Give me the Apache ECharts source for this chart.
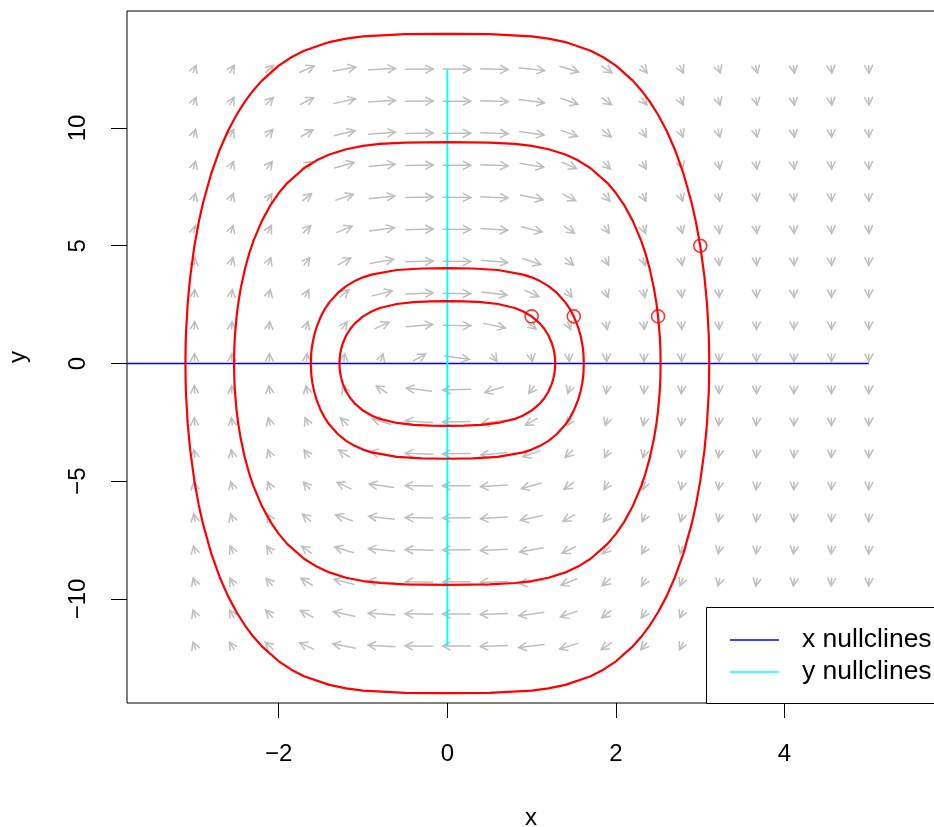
<!DOCTYPE html>
<html>
<head>
<meta charset="utf-8">
<script src="https://cdn.jsdelivr.net/npm/echarts@6/dist/echarts.min.js"></script>
<style>
  html, body { margin: 0; padding: 0; background: #ffffff; }
  #chart { width: 934px; height: 827px; }
</style>
</head>
<body>
<div id="chart"></div>
<script>
// Axis tick values
const xTicks = [-2, 0, 2, 4];
const yTicks = [-10, -5, 0, 5, 10];

// Direction field sample grid
const fieldX = [-3, -2.556, -2.111, -1.667, -1.222, -0.778, -0.333, 0.111, 0.556, 1,
                1.444, 1.889, 2.333, 2.778, 3.222, 3.667, 4.111, 4.556, 5];
const fieldY = [-12, -10.639, -9.278, -7.917, -6.556, -5.194, -3.833, -2.472, -1.111, 0.25,
                1.611, 2.972, 4.333, 5.694, 7.056, 8.417, 9.778, 11.139, 12.5];

// Flow direction (degrees, anticlockwise from +x, in data units), one row per fieldY value
const fieldAngle = [
  [96, 100, 107, 121, 145, 168, 178, -179, -174, -157, -132, -113, -103, -98, -95, -93, -92, -92, -91],
  [96, 99, 105, 118, 141, 166, 177, -179, -173, -155, -128, -110, -101, -97, -94, -93, -92, -92, -91],
  [95, 98, 103, 115, 137, 164, 177, -179, -172, -152, -125, -108, -100, -96, -94, -93, -92, -91, -91],
  [94, 97, 101, 111, 133, 161, 176, -179, -171, -148, -120, -105, -99, -95, -93, -92, -92, -91, -91],
  [93, 95, 99, 108, 128, 158, 176, -179, -169, -143, -116, -103, -97, -94, -93, -92, -91, -91, -91],
  [93, 94, 97, 104, 121, 153, 175, -179, -167, -136, -111, -100, -96, -93, -92, -92, -91, -91, -91],
  [92, 93, 96, 101, 114, 145, 173, -178, -162, -128, -106, -98, -94, -92, -92, -91, -91, -91, -90],
  [91, 92, 94, 97, 106, 133, 169, -177, -153, -116, -100, -95, -93, -92, -91, -91, -90, -90, -90],
  [91, 91, 92, 93, 97, 113, 157, -174, -132, -102, -95, -92, -91, -91, -90, -90, -90, -90, -90],
  [90, 90, 90, 89, 88, 85, 63, -25, -79, -87, -89, -90, -90, -90, -90, -90, -90, -90, -90],
  [89, 89, 88, 85, 79, 59, 17, -4, -38, -72, -83, -87, -88, -89, -89, -90, -90, -90, -90],
  [89, 88, 86, 82, 71, 42, 9, -2, -23, -59, -78, -84, -87, -88, -89, -89, -89, -90, -90],
  [88, 86, 84, 78, 63, 32, 6, -2, -16, -49, -72, -82, -85, -87, -88, -89, -89, -89, -90],
  [87, 85, 82, 74, 56, 25, 5, -1, -12, -41, -67, -79, -84, -86, -88, -88, -89, -89, -89],
  [86, 84, 80, 71, 50, 21, 4, -1, -10, -35, -62, -76, -82, -85, -87, -88, -89, -89, -89],
  [86, 83, 78, 67, 45, 18, 3, -1, -8, -31, -58, -74, -81, -85, -87, -88, -88, -89, -89],
  [85, 82, 76, 64, 41, 15, 3, -1, -7, -27, -54, -71, -80, -84, -86, -87, -88, -89, -89],
  [84, 81, 74, 61, 38, 13, 2, -1, -6, -24, -51, -69, -78, -83, -85, -87, -88, -88, -89],
  [84, 80, 73, 58, 34, 12, 2, -1, -6, -22, -47, -67, -77, -82, -85, -86, -88, -88, -89]
];

// Closed trajectories, one per starting point
const orbit1 = [
  [0, 2.646], [0.2, 2.638], [0.4, 2.606], [0.6, 2.526], [0.8, 2.354], [0.9, 2.209], [1, 2], [1.1, 1.692],
  [1.15, 1.476], [1.2, 1.189], [1.24, 0.857], [1.26, 0.609], [1.27, 0.429], [1.277, 0.226], [1.28, 0],
  [1.277, -0.226], [1.27, -0.429], [1.26, -0.609], [1.24, -0.857], [1.2, -1.189], [1.15, -1.476], [1.1, -1.692],
  [1, -2], [0.9, -2.209], [0.8, -2.354], [0.6, -2.526], [0.4, -2.606], [0.2, -2.638], [0, -2.646],
  [-0.2, -2.638], [-0.4, -2.606], [-0.6, -2.526], [-0.8, -2.354], [-0.9, -2.209], [-1, -2], [-1.1, -1.692],
  [-1.15, -1.476], [-1.2, -1.189], [-1.24, -0.857], [-1.26, -0.609], [-1.27, -0.429], [-1.277, -0.226], [-1.28, 0],
  [-1.277, 0.226], [-1.27, 0.429], [-1.26, 0.609], [-1.24, 0.857], [-1.2, 1.189], [-1.15, 1.476], [-1.1, 1.692],
  [-1, 2], [-0.9, 2.209], [-0.8, 2.354], [-0.6, 2.526], [-0.4, 2.606], [-0.2, 2.638], [0, 2.646]
];
const orbit2 = [
  [0, 4.047], [0.3, 4.033], [0.6, 3.969], [0.9, 3.775], [1, 3.657], [1.1, 3.498], [1.2, 3.285], [1.3, 2.995],
  [1.4, 2.595], [1.45, 2.331], [1.5, 2], [1.55, 1.558], [1.58, 1.189], [1.6, 0.841], [1.61, 0.587], [1.615, 0.401], [1.619, 0],
  [1.615, -0.401], [1.61, -0.587], [1.6, -0.841], [1.58, -1.189], [1.55, -1.558], [1.5, -2], [1.45, -2.331], [1.4, -2.595],
  [1.3, -2.995], [1.2, -3.285], [1.1, -3.498], [1, -3.657], [0.9, -3.775], [0.6, -3.969], [0.3, -4.033], [0, -4.047],
  [-0.3, -4.033], [-0.6, -3.969], [-0.9, -3.775], [-1, -3.657], [-1.1, -3.498], [-1.2, -3.285], [-1.3, -2.995],
  [-1.4, -2.595], [-1.45, -2.331], [-1.5, -2], [-1.55, -1.558], [-1.58, -1.189], [-1.6, -0.841], [-1.61, -0.587], [-1.615, -0.401], [-1.619, 0],
  [-1.615, 0.401], [-1.61, 0.587], [-1.6, 0.841], [-1.58, 1.189], [-1.55, 1.558], [-1.5, 2], [-1.45, 2.331], [-1.4, 2.595],
  [-1.3, 2.995], [-1.2, 3.285], [-1.1, 3.498], [-1, 3.657], [-0.9, 3.775], [-0.6, 3.969], [-0.3, 4.033], [0, 4.047]
];
const orbit3 = [
  [0, 9.401], [0.5, 9.381], [0.8, 9.323], [1, 9.24], [1.2, 9.099], [1.4, 8.873], [1.55, 8.627], [1.7, 8.293],
  [1.9, 7.662], [2, 7.237], [2.1, 6.713], [2.2, 6.057], [2.3, 5.207], [2.35, 4.675], [2.4, 4.032], [2.45, 3.211],
  [2.48, 2.563], [2.5, 2], [2.52, 1.171], [2.527, 0.66], [2.53, 0],
  [2.527, -0.66], [2.52, -1.171], [2.5, -2], [2.48, -2.563], [2.45, -3.211], [2.4, -4.032], [2.35, -4.675], [2.3, -5.207],
  [2.2, -6.057], [2.1, -6.713], [2, -7.237], [1.9, -7.662], [1.7, -8.293], [1.55, -8.627], [1.4, -8.873], [1.2, -9.099],
  [1, -9.24], [0.8, -9.323], [0.5, -9.381], [0, -9.401],
  [-0.5, -9.381], [-0.8, -9.323], [-1, -9.24], [-1.2, -9.099], [-1.4, -8.873], [-1.55, -8.627], [-1.7, -8.293],
  [-1.9, -7.662], [-2, -7.237], [-2.1, -6.713], [-2.2, -6.057], [-2.3, -5.207], [-2.35, -4.675], [-2.4, -4.032], [-2.45, -3.211],
  [-2.48, -2.563], [-2.5, -2], [-2.52, -1.171], [-2.527, -0.66], [-2.53, 0],
  [-2.527, 0.66], [-2.52, 1.171], [-2.5, 2], [-2.48, 2.563], [-2.45, 3.211], [-2.4, 4.032], [-2.35, 4.675], [-2.3, 5.207],
  [-2.2, 6.057], [-2.1, 6.713], [-2, 7.237], [-1.9, 7.662], [-1.7, 8.293], [-1.55, 8.627], [-1.4, 8.873], [-1.2, 9.099],
  [-1, 9.24], [-0.8, 9.323], [-0.5, 9.381], [0, 9.401]
];
const orbit4 = [
  [0, 14], [0.5, 13.987], [1, 13.892], [1.2, 13.799], [1.4, 13.651], [1.7, 13.282], [1.85, 13.006], [2, 12.649],
  [2.2, 12.013], [2.3, 11.608], [2.4, 11.13], [2.5, 10.565], [2.6, 9.892], [2.7, 9.079], [2.8, 8.076], [2.9, 6.792],
  [2.95, 5.986], [3, 5], [3.05, 3.691], [3.08, 2.555], [3.1, 1.298], [3.104, 0.84], [3.107, 0],
  [3.104, -0.84], [3.1, -1.298], [3.08, -2.555], [3.05, -3.691], [3, -5], [2.95, -5.986], [2.9, -6.792], [2.8, -8.076],
  [2.7, -9.079], [2.6, -9.892], [2.5, -10.565], [2.4, -11.13], [2.3, -11.608], [2.2, -12.013], [2, -12.649], [1.85, -13.006],
  [1.7, -13.282], [1.4, -13.651], [1.2, -13.799], [1, -13.892], [0.5, -13.987], [0, -14],
  [-0.5, -13.987], [-1, -13.892], [-1.2, -13.799], [-1.4, -13.651], [-1.7, -13.282], [-1.85, -13.006], [-2, -12.649],
  [-2.2, -12.013], [-2.3, -11.608], [-2.4, -11.13], [-2.5, -10.565], [-2.6, -9.892], [-2.7, -9.079], [-2.8, -8.076], [-2.9, -6.792],
  [-2.95, -5.986], [-3, -5], [-3.05, -3.691], [-3.08, -2.555], [-3.1, -1.298], [-3.104, -0.84], [-3.107, 0],
  [-3.104, 0.84], [-3.1, 1.298], [-3.08, 2.555], [-3.05, 3.691], [-3, 5], [-2.95, 5.986], [-2.9, 6.792], [-2.8, 8.076],
  [-2.7, 9.079], [-2.6, 9.892], [-2.5, 10.565], [-2.4, 11.13], [-2.3, 11.608], [-2.2, 12.013], [-2, 12.649], [-1.85, 13.006],
  [-1.7, 13.282], [-1.4, 13.651], [-1.2, 13.799], [-1, 13.892], [-0.5, 13.987], [0, 14]
];

// Starting points of the trajectories
const startPoints = [[1, 2], [1.5, 2], [2.5, 2], [3, 5]];

// Nullclines
const xNullcline = [[-3.8, 0], [5, 0]];
const yNullcline = [[0, -12], [0, 12.5]];
const legendLabels = ['x nullclines', 'y nullclines'];

const FONT = '"Liberation Sans", Arial, Helvetica, sans-serif';
const GREY = '#BEBEBE';

const arrowData = [];
fieldY.forEach((y, j) => {
  fieldX.forEach((x, i) => arrowData.push([x, y, fieldAngle[j][i]]));
});

// Arrow of fixed length in data units, centred on its grid point
const ARROW_LEN = 0.333;
function renderArrow(params, api) {
  const x = api.value(0), y = api.value(1);
  const a = api.value(2) * Math.PI / 180;
  const hx = Math.cos(a) * ARROW_LEN / 2, hy = Math.sin(a) * ARROW_LEN / 2;
  const p0 = api.coord([x - hx, y - hy]);
  const p1 = api.coord([x + hx, y + hy]);
  const ang = Math.atan2(p1[1] - p0[1], p1[0] - p0[0]);
  const head = 9, spread = 28 * Math.PI / 180;
  const b1 = [p1[0] - head * Math.cos(ang - spread), p1[1] - head * Math.sin(ang - spread)];
  const b2 = [p1[0] - head * Math.cos(ang + spread), p1[1] - head * Math.sin(ang + spread)];
  return {
    type: 'group',
    children: [
      { type: 'line', shape: { x1: p0[0], y1: p0[1], x2: p1[0], y2: p1[1] },
        style: { stroke: GREY, lineWidth: 1.5 } },
      { type: 'polyline', shape: { points: [b1, p1, b2] },
        style: { stroke: GREY, lineWidth: 1.5, fill: null } }
    ]
  };
}

const minusFmt = v => String(v).replace('-', '\u2212');

const chart = echarts.init(document.getElementById('chart'), null, { renderer: 'canvas' });

function orbitSeries(data) {
  return {
    type: 'line', data: data, showSymbol: false, symbol: 'none', smooth: false,
    lineStyle: { color: '#FF0000', width: 2.2 }, z: 4, silent: true, animation: false
  };
}

chart.setOption({
  animation: false,
  backgroundColor: '#ffffff',
  grid: {
    left: 127, top: 11, width: 808, height: 692,
    outerBoundsMode: 'none', containLabel: false,
    show: true, borderColor: '#000000', borderWidth: 1, backgroundColor: 'transparent'
  },
  xAxis: {
    type: 'value', min: -3.8, max: 5.785,
    axisLine: { show: false, onZero: false },
    splitLine: { show: false },
    axisTick: { show: true, length: 15, customValues: xTicks, lineStyle: { color: '#000', width: 1 } },
    axisLabel: { customValues: xTicks, fontSize: 24, fontFamily: FONT, color: '#000', margin: 39, formatter: minusFmt },
    name: 'x', nameLocation: 'middle', nameGap: 103,
    nameTextStyle: { fontSize: 24, fontFamily: FONT, color: '#000' }
  },
  yAxis: {
    type: 'value', min: -14.42, max: 14.97,
    axisLine: { show: false, onZero: false },
    splitLine: { show: false },
    axisTick: { show: true, length: 16, customValues: yTicks, lineStyle: { color: '#000', width: 1 } },
    axisLabel: { customValues: yTicks, fontSize: 24, fontFamily: FONT, color: '#000', margin: 37, rotate: 90, formatter: minusFmt },
    name: 'y', nameLocation: 'middle', nameGap: 97,
    nameTextStyle: { fontSize: 24, fontFamily: FONT, color: '#000' }
  },
  series: [
    {
      type: 'custom', renderItem: renderArrow, data: arrowData,
      encode: { x: 0, y: 1 }, z: 1, silent: true, clip: false
    },
    {
      type: 'line', data: xNullcline, showSymbol: false, symbol: 'none',
      lineStyle: { color: '#0000FF', width: 1.6 }, z: 2, silent: true
    },
    {
      type: 'line', data: yNullcline, showSymbol: false, symbol: 'none',
      lineStyle: { color: '#00FFFF', width: 1.9 }, z: 2, silent: true
    },
    orbitSeries(orbit1),
    orbitSeries(orbit2),
    orbitSeries(orbit3),
    orbitSeries(orbit4),
    {
      type: 'scatter', data: startPoints, symbol: 'circle', symbolSize: 13,
      itemStyle: { color: 'rgba(0,0,0,0)', borderColor: '#FF0000', borderWidth: 1.6 },
      z: 5, silent: true
    }
  ],
  graphic: [
    { type: 'rect', shape: { x: 706.5, y: 607.5, width: 240, height: 96 },
      style: { fill: '#ffffff', stroke: '#000000', lineWidth: 1 }, z: 100 },
    { type: 'line', shape: { x1: 730, y1: 640, x2: 779, y2: 640 },
      style: { stroke: '#0000FF', lineWidth: 1.5 }, z: 101 },
    { type: 'line', shape: { x1: 730, y1: 672, x2: 779, y2: 672 },
      style: { stroke: '#00FFFF', lineWidth: 1.5 }, z: 101 },
    { type: 'text', x: 802, y: 640, z: 101,
      style: { text: legendLabels[0], fontSize: 26.5, fontFamily: FONT, fill: '#000', verticalAlign: 'middle', align: 'left' } },
    { type: 'text', x: 802, y: 672, z: 101,
      style: { text: legendLabels[1], fontSize: 26.5, fontFamily: FONT, fill: '#000', verticalAlign: 'middle', align: 'left' } }
  ]
});
</script>
</body>
</html>
